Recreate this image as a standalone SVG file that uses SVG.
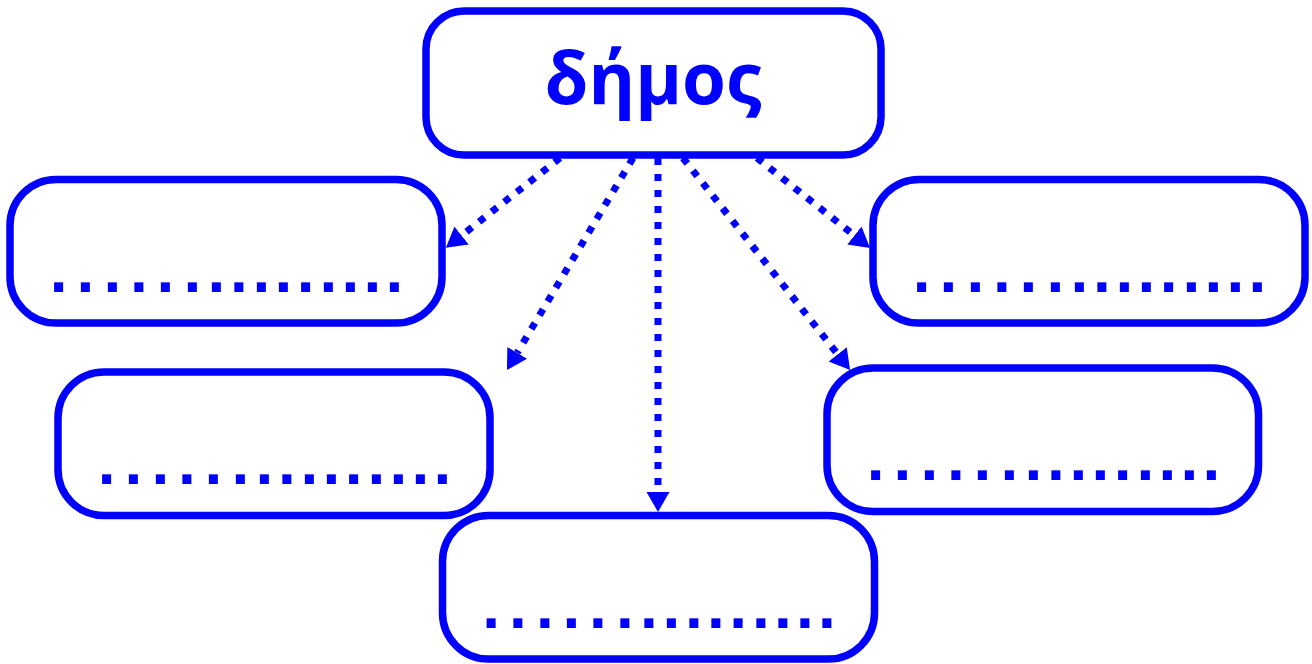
<svg xmlns="http://www.w3.org/2000/svg" width="1312" height="664" viewBox="0 0 1312 664">
  <style>
    .box { fill: #ffffff; stroke: #0000ff; stroke-width: 7.5; }
    .title { font-family: "Open Sans", "Noto Sans", "DejaVu Sans", sans-serif; font-weight: bold; font-size: 71px; fill: #0000ff; text-anchor: middle; }
    .dots { font-family: "Liberation Sans", Arial, sans-serif; font-weight: bold; font-size: 64px; fill: #0000ff; text-anchor: middle; }
    .conn { fill: none; stroke: #0000ff; stroke-width: 7; stroke-dasharray: 7 9; }
  </style>
  <defs>
    <marker id="arrow" markerUnits="userSpaceOnUse" markerWidth="21" markerHeight="24" refX="0" refY="11.5" orient="auto">
      <path d="M0,0 L20,11.5 L0,23 z" fill="#0000ff"/>
    </marker>
  </defs>

  <g id="node-top">
    <rect class="box" x="426" y="11" width="455" height="144" rx="38" ry="38"/>
    <text class="title" x="653" y="104">δήμος</text>
  </g>

  <g id="node-left-top">
    <rect class="box" x="10" y="179.5" width="432" height="143.5" rx="46" ry="46"/>
    <text class="dots" x="58.7 85.3 112.3 139 165.3 192.3 216.3 239 261.3 283.3 305.7 328.3 350.3 372.3 394.3" y="291.8">...............</text>
  </g>

  <g id="node-left-mid">
    <rect class="box" x="58" y="372" width="432" height="143.5" rx="46" ry="46"/>
    <text class="dots" x="106.7 133.3 160.3 187 213.3 240.3 264.3 287 309.3 331.3 353.7 376.3 398.3 420.3 442.3" y="484.3">...............</text>
  </g>

  <g id="node-bottom">
    <rect class="box" x="442.5" y="515.5" width="432" height="143.5" rx="46" ry="46"/>
    <text class="dots" x="491.2 517.8 544.8 571.5 597.8 624.8 648.8 671.5 693.8 715.8 738.2 760.8 782.8 804.8 826.8" y="627.8">...............</text>
  </g>

  <g id="node-right-mid">
    <rect class="box" x="827" y="368" width="431.5" height="143.5" rx="46" ry="46"/>
    <text class="dots" x="875.7 902.3 929.3 956 982.3 1009.3 1033.3 1056 1078.3 1100.3 1122.7 1145.3 1167.3 1189.3 1211.3" y="479.8">...............</text>
  </g>

  <g id="node-right-top">
    <rect class="box" x="873" y="179.5" width="432" height="143.5" rx="46" ry="46"/>
    <text class="dots" x="921.7 948.3 975.3 1002 1028.3 1055.3 1079.3 1102 1124.3 1146.3 1168.7 1191.3 1213.3 1235.3 1257.3" y="291.8">...............</text>
  </g>

  <g id="connectors">
    <line class="conn" x1="560" y1="158" x2="461.6" y2="235.5" marker-end="url(#arrow)"/>
    <line class="conn" x1="633" y1="158" x2="517.2" y2="352.8" marker-end="url(#arrow)"/>
    <line class="conn" x1="658" y1="158" x2="658" y2="492" marker-end="url(#arrow)"/>
    <line class="conn" x1="683" y1="158" x2="837.7" y2="354.3" marker-end="url(#arrow)"/>
    <line class="conn" x1="757" y1="158" x2="854.4" y2="235.5" marker-end="url(#arrow)"/>
  </g>
</svg>
